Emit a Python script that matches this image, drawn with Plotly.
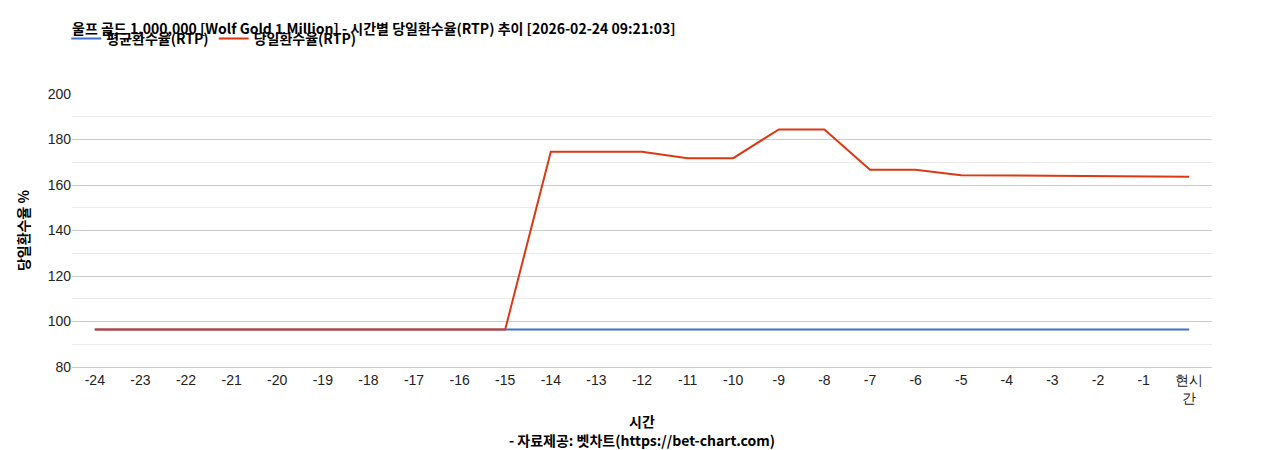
import plotly.graph_objects as go

labels = ["-24","-23","-22","-21","-20","-19","-18","-17","-16","-15","-14","-13","-12","-11","-10","-9","-8","-7","-6","-5","-4","-3","-2","-1","현시<br>간"]
avg_rtp = [96.5]*25
day_rtp = [96.5]*10 + [174.6, 174.6, 174.6, 171.8, 171.8, 184.4, 184.4, 166.7, 166.7, 164.3, 164.2, 164.0, 164.0, 163.6, 163.6]

fig = go.Figure()
fig.add_trace(go.Scatter(x=labels, y=avg_rtp, mode="lines", name="<b>평균환수율(RTP)</b>", line=dict(color="#3f6fd1", width=2)))
fig.add_trace(go.Scatter(x=labels, y=day_rtp, mode="lines", name="<b>당일환수율(RTP)</b>", line=dict(color="#dc3912", width=2)))

font = "Noto Sans CJK KR"
fig.update_layout(
    width=1268, height=450, plot_bgcolor="white", paper_bgcolor="white",
    margin=dict(l=64, r=64, t=86, b=87),
    font=dict(family=font, size=14, color="#222"),
    title=dict(text="<b>울프 골드 1,000,000 [Wolf Gold 1 Million] - 시간별 당일환수율(RTP) 추이 [2026-02-24 09:21:03]</b>",
               xref="paper", x=0, xanchor="left", y=0.965, yanchor="top", font=dict(size=14, color="#000")),
    legend=dict(orientation="h", x=-0.005, xanchor="left", y=1.26, yanchor="top", font=dict(size=14, color="#000")),
    showlegend=True,
)
fig.update_xaxes(range=[-0.5, 24.5], tickfont=dict(size=14, family="Liberation Sans"), showgrid=False, showline=True, linecolor="#ccc",
                 title=dict(text="<b>시간</b><br><b>- 자료제공: 벳차트(https://bet-chart.com)</b>", font=dict(size=14, color="#000"), standoff=12))
fig.update_yaxes(range=[80, 200], dtick=20, gridcolor="#cccccc", zeroline=False, tickfont=dict(size=14, family="Liberation Sans"),
                 minor=dict(dtick=10, showgrid=True, gridcolor="#ebebeb"),
                 title=dict(text="<b>당일환수율 %</b>", font=dict(size=14, color="#000"), standoff=14))
fig.write_html("out.html")
